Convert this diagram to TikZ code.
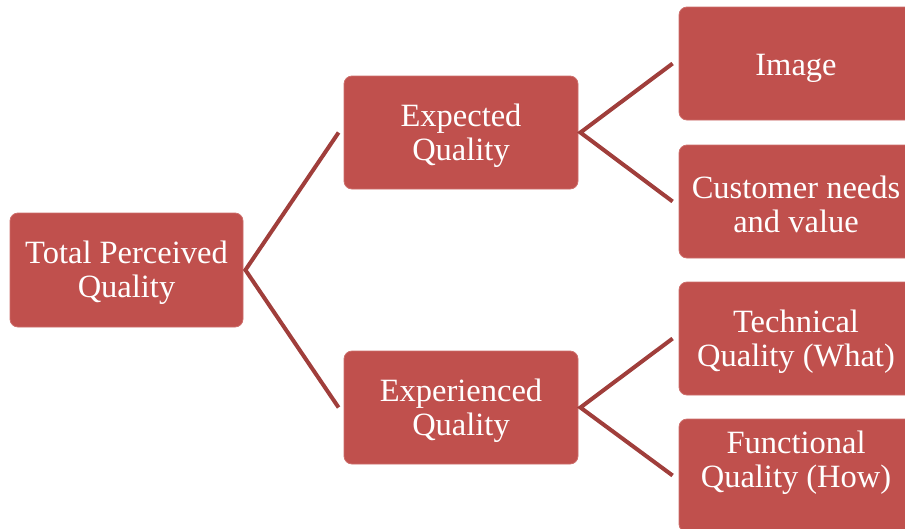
\documentclass[tikz,border=0pt]{standalone}
\usepackage{fontspec}
\setmainfont{Liberation Serif}
\usetikzlibrary{calc}
\definecolor{boxred}{HTML}{C0504D}
\definecolor{boxedge}{HTML}{CD6E6B}
\definecolor{linkred}{HTML}{A03E3B}
\tikzset{
  qbox/.style={fill=boxred, draw=boxedge, line width=0.8pt, rounded corners=8pt,
    minimum width=234pt, minimum height=113pt, inner sep=0pt},
  qtext/.style={inner sep=0pt, align=center, text=white,
    font=\fontsize{32.5}{34}\selectfont},
  link/.style={draw=linkred, line width=4pt, line join=miter}
}
\begin{document}
\begin{tikzpicture}[x=1pt,y=1pt]
\useasboundingbox (0,0) rectangle (905,-528);
\clip (0,0) rectangle (905,-528);
\node[qbox, minimum width=233pt, minimum height=114pt] (root) at (126.5,-270) {};
\node[qbox] (exp) at (461,-132.5) {};
\node[qbox] (expd) at (461,-407.5) {};
\node[qbox] (img) at (796,-63.5) {};
\node[qbox] (cust) at (796,-201.5) {};
\node[qbox] (tech) at (796,-338.5) {};
\node[qbox] (func) at (796,-475.5) {};
\node[qtext] (rootT) at ($(root)+(0,-3)$) {Total Perceived\\Quality};
\node[qtext] (expT) at ($(exp)+(0,-3)$) {Expected\\Quality};
\node[qtext] (expdT) at ($(expd)+(0,-3)$) {Experienced\\Quality};
\node[qtext] (imgT) at ($(img)+(0,-5)$) {Image};
\node[qtext] (custT) at ($(cust)+(0,-3)$) {Customer needs\\and value};
\node[qtext] (techT) at ($(tech)+(0,-3)$) {Technical\\Quality (What)};
\node[qtext] (funcT) at ($(func)+(0,13)$) {Functional\\Quality (How)};
\draw[link] ($(exp.west)+(-5,0)$) -- ($(root.east)+(2,0)$) -- ($(expd.west)+(-5,0)$);
\draw[link] ($(img.west)+(-6,0)$) -- ($(exp.east)+(2,0)$) -- ($(cust.west)+(-6,0)$);
\draw[link] ($(tech.west)+(-6,0)$) -- ($(expd.east)+(2,0)$) -- ($(func.west)+(-6,0)$);
\end{tikzpicture}
\end{document}
